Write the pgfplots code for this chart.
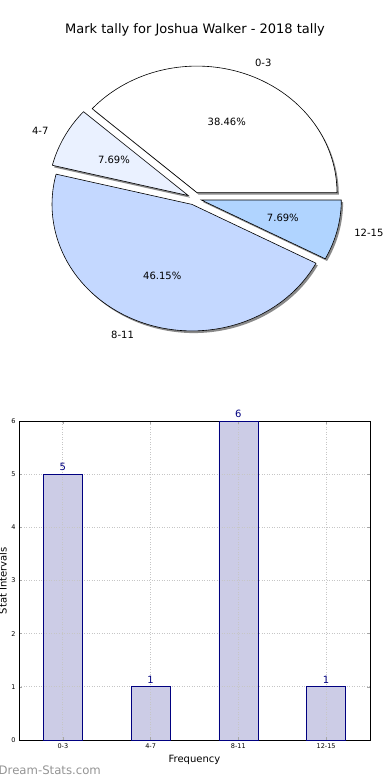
\documentclass[border=0pt]{standalone}
\usepackage{pgfplots}
\pgfplotsset{compat=1.18}
\usepackage{pgfplotstable}
\usepackage{fontspec}
\setmainfont{DejaVu Sans}
\definecolor{barfill}{HTML}{CCCCE6}
\definecolor{baredge}{HTML}{000080}
\definecolor{cA}{HTML}{FFFFFF}
\definecolor{cB}{HTML}{EAF1FF}
\definecolor{cC}{HTML}{C4D8FF}
\definecolor{cD}{HTML}{B0D4FF}
\definecolor{shad}{HTML}{8A8A8A}

\pgfplotstableread{
label value
0-3 5
4-7 1
8-11 6
12-15 1
}\tally

\pgfplotsset{
  barbase/.style={
    at={(19pt,-740pt)}, anchor=south west,
    scale only axis, width=351pt, height=319pt,
    xmin=-0.5, xmax=3.5, ymin=0, ymax=6,
    ybar, bar width=39pt,
  }
}

\begin{document}
\begin{tikzpicture}
\path[use as bounding box] (0,0) rectangle (390pt,-780pt);
\pgfplotstablegetelem{0}{value}\of\tally \let\vA\pgfplotsretval
\pgfplotstablegetelem{1}{value}\of\tally \let\vB\pgfplotsretval
\pgfplotstablegetelem{2}{value}\of\tally \let\vC\pgfplotsretval
\pgfplotstablegetelem{3}{value}\of\tally \let\vD\pgfplotsretval
\pgfmathsetmacro\tot{\vA+\vB+\vC+\vD}
\pgfmathsetmacro\aA{0}
\pgfmathsetmacro\aB{360*\vA/\tot}
\pgfmathsetmacro\aC{\aB+360*\vB/\tot}
\pgfmathsetmacro\aD{\aC+360*\vC/\tot}
\pgfmathsetmacro\aE{360}
% mid angles
\pgfmathsetmacro\mA{(\aA+\aB)/2}
\pgfmathsetmacro\mB{(\aB+\aC)/2}
\pgfmathsetmacro\mC{(\aC+\aD)/2}
\pgfmathsetmacro\mD{(\aD+\aE)/2}
% explode offsets
\pgfmathsetmacro\xA{0.05*cos(\mA)}\pgfmathsetmacro\yA{0.05*sin(\mA)}
\pgfmathsetmacro\xB{0.05*cos(\mB)}\pgfmathsetmacro\yB{0.05*sin(\mB)}
\pgfmathsetmacro\xC{0.05*cos(\mC)}\pgfmathsetmacro\yC{0.05*sin(\mC)}
\pgfmathsetmacro\xD{0.05*cos(\mD)}\pgfmathsetmacro\yD{0.05*sin(\mD)}
% shadow offsets
\pgfmathsetmacro\sxA{\xA+0.013}\pgfmathsetmacro\syA{\yA-0.017}
\pgfmathsetmacro\sxB{\xB+0.013}\pgfmathsetmacro\syB{\yB-0.017}
\pgfmathsetmacro\sxC{\xC+0.013}\pgfmathsetmacro\syC{\yC-0.017}
\pgfmathsetmacro\sxD{\xD+0.013}\pgfmathsetmacro\syD{\yD-0.017}
% percentages
\pgfmathsetmacro\pA{100*\vA/\tot}\pgfmathsetmacro\pB{100*\vB/\tot}
\pgfmathsetmacro\pC{100*\vC/\tot}\pgfmathsetmacro\pD{100*\vD/\tot}

\node[font=\fontsize{13}{15}\selectfont] at (195pt,-30pt) {Mark tally for Joshua Walker - 2018 tally};

\begin{axis}[
  at={(-15.5pt,-388.25pt)}, anchor=south west,
  scale only axis, x=140pt, y=126.5pt,
  xmin=-1.5, xmax=1.5, ymin=-1.5, ymax=1.5,
  hide axis, clip=false,
]
% shadows
\addplot[draw=none, fill=shad, domain=\aA:\aB, samples=100, variable=\t] ({\sxA+cos(\t)}, {\syA+sin(\t)}) -- (axis cs:\sxA,\syA) -- cycle;
\addplot[draw=none, fill=shad, domain=\aB:\aC, samples=40, variable=\t] ({\sxB+cos(\t)}, {\syB+sin(\t)}) -- (axis cs:\sxB,\syB) -- cycle;
\addplot[draw=none, fill=shad, domain=\aC:\aD, samples=120, variable=\t] ({\sxC+cos(\t)}, {\syC+sin(\t)}) -- (axis cs:\sxC,\syC) -- cycle;
\addplot[draw=none, fill=shad, domain=\aD:\aE, samples=40, variable=\t] ({\sxD+cos(\t)}, {\syD+sin(\t)}) -- (axis cs:\sxD,\syD) -- cycle;
% wedges
\addplot[draw=black, line width=0.6pt, fill=cA, domain=\aA:\aB, samples=100, variable=\t] ({\xA+cos(\t)}, {\yA+sin(\t)}) -- (axis cs:\xA,\yA) -- cycle;
\addplot[draw=black, line width=0.6pt, fill=cB, domain=\aB:\aC, samples=40, variable=\t] ({\xB+cos(\t)}, {\yB+sin(\t)}) -- (axis cs:\xB,\yB) -- cycle;
\addplot[draw=black, line width=0.6pt, fill=cC, domain=\aC:\aD, samples=120, variable=\t] ({\xC+cos(\t)}, {\yC+sin(\t)}) -- (axis cs:\xC,\yC) -- cycle;
\addplot[draw=black, line width=0.6pt, fill=cD, domain=\aD:\aE, samples=40, variable=\t] ({\xD+cos(\t)}, {\yD+sin(\t)}) -- (axis cs:\xD,\yD) -- cycle;
% labels
\node[anchor=west, font=\fontsize{10}{12}\selectfont] at (axis cs:{1.15*cos(\mA)},{1.15*sin(\mA)}) {0-3};
\node[anchor=east, font=\fontsize{10}{12}\selectfont] at (axis cs:{1.15*cos(\mB)},{1.15*sin(\mB)}) {4-7};
\node[anchor=east, font=\fontsize{10}{12}\selectfont] at (axis cs:{1.15*cos(\mC)},{1.15*sin(\mC)}) {8-11};
\node[anchor=west, font=\fontsize{10}{12}\selectfont] at (axis cs:{1.15*cos(\mD)},{1.15*sin(\mD)}) {12-15};
\node[font=\fontsize{10}{12}\selectfont] at (axis cs:{0.65*cos(\mA)},{0.65*sin(\mA)}) {\pgfmathprintnumber[fixed,precision=2,fixed zerofill,assume math mode=true]{\pA}\%};
\node[font=\fontsize{10}{12}\selectfont] at (axis cs:{0.65*cos(\mB)},{0.65*sin(\mB)}) {\pgfmathprintnumber[fixed,precision=2,fixed zerofill,assume math mode=true]{\pB}\%};
\node[font=\fontsize{10}{12}\selectfont] at (axis cs:{0.65*cos(\mC)},{0.65*sin(\mC)}) {\pgfmathprintnumber[fixed,precision=2,fixed zerofill,assume math mode=true]{\pC}\%};
\node[font=\fontsize{10}{12}\selectfont] at (axis cs:{0.65*cos(\mD)},{0.65*sin(\mD)}) {\pgfmathprintnumber[fixed,precision=2,fixed zerofill,assume math mode=true]{\pD}\%};
\end{axis}

% bar chart: fills with grid on top
\begin{axis}[
  barbase, axis on top,
  xtick={0,1,2,3}, xticklabels={0-3,4-7,8-11,12-15},
  ytick={0,1,...,6},
  grid=major,
  major grid style={gray!45, dash pattern=on 0.9pt off 1.6pt, line width=0.8pt},
  axis line style={line width=0.8pt},
  tick align=inside, major tick length=3pt,
  tick style={gray!70, line width=0.6pt},
  /pgf/number format/assume math mode=true,
  tick label style={font=\fontsize{6.5}{7.5}\selectfont},
  xlabel=Frequency, ylabel=Stat Intervals,
  label style={font=\fontsize{10}{12}\selectfont},
  xlabel style={at={(axis description cs:0.5,0)}, anchor=center, yshift=-20pt},
  ylabel style={at={(axis description cs:-0.0456,0.5)}, anchor=center},
]
\addplot[fill=barfill, draw=none]
  table[x expr=\coordindex, y=value] {\tally};
\end{axis}
% bar chart: edges and value labels over the grid
\begin{axis}[
  barbase, hide axis, clip=false,
  /pgf/number format/assume math mode=true,
]
\addplot[fill=none, draw=baredge, line width=0.7pt,
  nodes near coords,
  nodes near coords style={text=baredge, font=\fontsize{10}{12}\selectfont, inner sep=3pt}]
  table[x expr=\coordindex, y=value] {\tally};
\end{axis}

\node[anchor=west, text=black!42, font=\fontsize{11.7}{13}\selectfont, inner sep=0pt] at (-1.5pt,-770pt) {Dream-Stats.com};
\end{tikzpicture}
\end{document}
